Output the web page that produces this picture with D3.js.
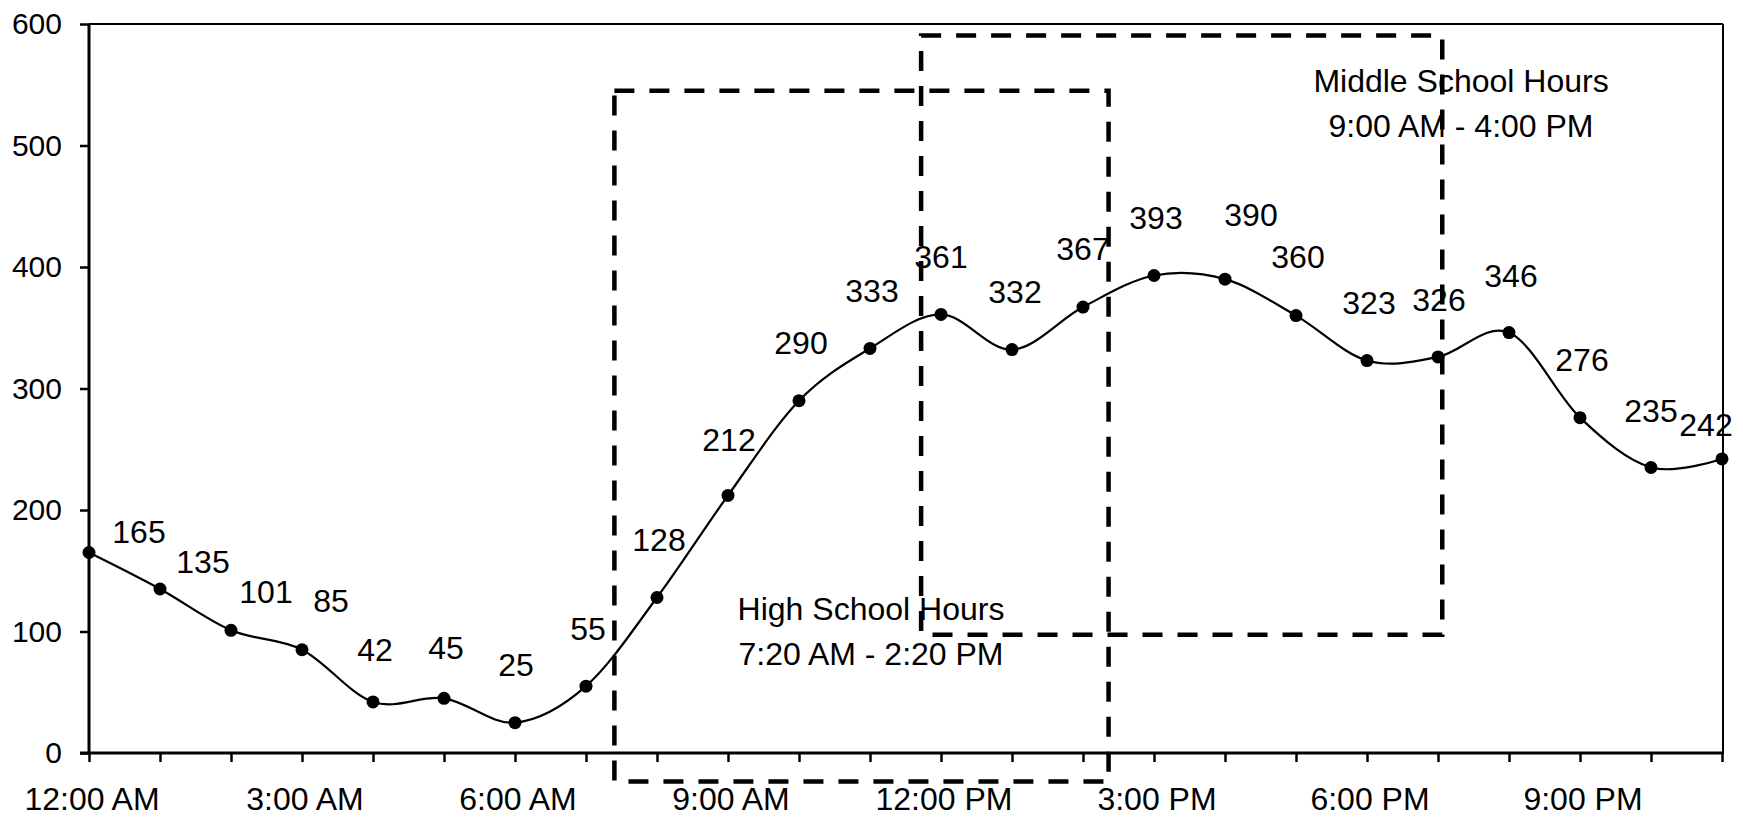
<!DOCTYPE html>
<html>
<head>
<meta charset="utf-8">
<script src="https://cdn.jsdelivr.net/npm/d3@7"></script>
<style>
  html, body { margin: 0; padding: 0; background: #fff; }
  svg { display: block; }
  text { font-family: "Liberation Sans", Arial, sans-serif; fill: #000; }
</style>
</head>
<body>
<svg id="chart" width="1743" height="817"></svg>
<script>
// ---- data ----
const categories = ["12:00 AM","1:00 AM","2:00 AM","3:00 AM","4:00 AM","5:00 AM","6:00 AM","7:00 AM",
  "8:00 AM","9:00 AM","10:00 AM","11:00 AM","12:00 PM","1:00 PM","2:00 PM","3:00 PM",
  "4:00 PM","5:00 PM","6:00 PM","7:00 PM","8:00 PM","9:00 PM","10:00 PM","11:00 PM"];
const values = [165,135,101,85,42,45,25,55,128,212,290,333,361,332,367,393,390,360,323,326,346,276,235,242];
const yTicks = [0,100,200,300,400,500,600];
const xTickLabels = ["12:00 AM","3:00 AM","6:00 AM","9:00 AM","12:00 PM","3:00 PM","6:00 PM","9:00 PM"];
const xTickIndex = [0,3,6,9,12,15,18,21];

// annotation boxes (hour position, value)
const boxNames = ["High School Hours","Middle School Hours"];
const boxRanges = ["7:20 AM - 2:20 PM","9:00 AM - 4:00 PM"];
const boxX0 = [7.40, 11.72];
const boxX1 = [14.36, 19.06];
const boxYLow = [-23.5, 97.4];
const boxYHigh = [545, 590.5];

// ---- layout ----
const W = 1743, H = 817;
const plot = {left: 89, right: 1722, top: 24, bottom: 753};
// label offsets in px (dx, dy of label centre relative to point)
const labelDX = [50,43,35,29,2,2,1,2,2,1,2,2,0,3,0,2,26,2,2,1,2,2,0,-16];
const labelDY = [-21,-27,-39,-49,-52,-51,-58,-58,-58,-56,-58,-58,-58,-58,-59,-58,-65,-59,-58,-57,-57,-58,-57,-34];
// annotation text layout (px)
const noteCX = [871, 1461];
const noteBase = [620, 92];

const svg = d3.select("#chart");

const x = d3.scaleLinear().domain([0, categories.length - 1]).range([plot.left, plot.right]);
const y = d3.scaleLinear().domain([0, 600]).range([plot.bottom, plot.top]);

// plot frame (top and right thin)
svg.append("line").attr("x1", plot.left).attr("x2", plot.right + 1)
  .attr("y1", plot.top).attr("y2", plot.top).attr("stroke", "#000").attr("stroke-width", 2);
svg.append("line").attr("x1", plot.right + 1).attr("x2", plot.right + 1)
  .attr("y1", plot.top).attr("y2", plot.bottom).attr("stroke", "#000").attr("stroke-width", 2);

// Y axis
const yAxis = d3.axisLeft(y).tickValues(yTicks).tickSize(9).tickPadding(18).tickFormat(d3.format("d"));
const gy = svg.append("g").attr("transform", `translate(${plot.left},0)`).call(yAxis);
gy.select(".domain").attr("stroke-width", 3).attr("d", `M0,${plot.top}V${plot.bottom + 1}`);
gy.selectAll(".tick line").attr("stroke-width", 2.5);
gy.selectAll(".tick text").style("font-size", "30px").attr("fill", "#000")
  .style("font-family", '"Liberation Sans", Arial, sans-serif');

// X axis
const xAxis = d3.axisBottom(x).tickValues(d3.range(categories.length)).tickSize(9)
  .tickFormat(() => "");
const gx = svg.append("g").attr("transform", `translate(0,${plot.bottom})`).call(xAxis);
gx.select(".domain").attr("stroke-width", 3).attr("d", `M${plot.left - 9},0H${plot.right + 2}`);
gx.selectAll(".tick line").attr("stroke-width", 2.5);

svg.append("g").selectAll("text").data(xTickIndex).join("text")
  .attr("x", d => x(d) + 3)
  .attr("y", 810)
  .attr("text-anchor", "middle")
  .style("font-size", "32px")
  .text((d, i) => xTickLabels[i]);

// line
const line = d3.line()
  .x((d, i) => x(i))
  .y(d => y(d))
  .curve(d3.curveCardinal.tension(0));
svg.append("path").datum(values)
  .attr("d", line).attr("fill", "none").attr("stroke", "#000").attr("stroke-width", 2.2);

// markers
svg.append("g").selectAll("circle").data(values).join("circle")
  .attr("cx", (d, i) => x(i)).attr("cy", d => y(d)).attr("r", 6.5).attr("fill", "#000");

// data labels
svg.append("g").selectAll("text").data(values).join("text")
  .attr("x", (d, i) => x(i) + labelDX[i])
  .attr("y", (d, i) => y(d) + labelDY[i])
  .attr("dy", "0.36em")
  .attr("text-anchor", "middle")
  .style("font-size", "32px")
  .text(d => d);

// annotation texts
boxNames.forEach((name, i) => {
  const t = svg.append("text").attr("text-anchor", "middle").style("font-size", "32px");
  t.append("tspan").attr("x", noteCX[i]).attr("y", noteBase[i]).text(name);
  t.append("tspan").attr("x", noteCX[i]).attr("y", noteBase[i] + 45).text(boxRanges[i]);
});

// dashed boxes
svg.append("g").selectAll("rect").data(boxNames).join("rect")
  .attr("x", (d, i) => x(boxX0[i]))
  .attr("y", (d, i) => y(boxYHigh[i]))
  .attr("width", (d, i) => x(boxX1[i]) - x(boxX0[i]))
  .attr("height", (d, i) => y(boxYLow[i]) - y(boxYHigh[i]))
  .attr("fill", "none")
  .attr("stroke", "#000")
  .attr("stroke-width", 4.5)
  .attr("stroke-dasharray", "20,15");
</script>
</body>
</html>
